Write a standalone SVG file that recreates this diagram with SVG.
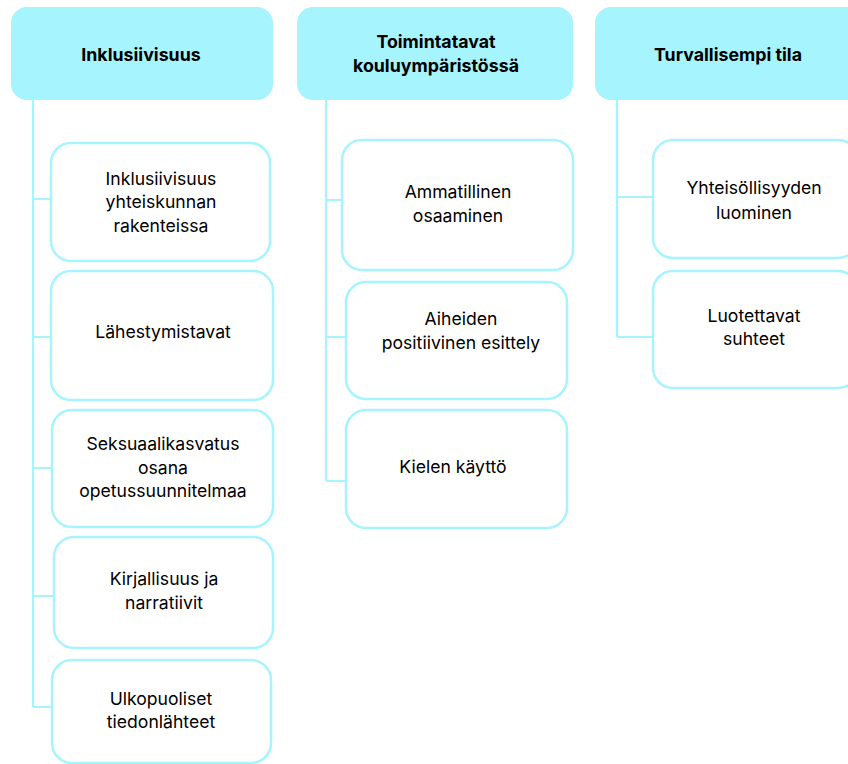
<svg xmlns="http://www.w3.org/2000/svg" width="848" height="764" viewBox="0 0 848 764">
<style>
.hdr{fill:#a6f4fd;stroke:none}
.box{fill:#ffffff;stroke:#a6f4fd;stroke-width:2.5}
.ln{fill:none;stroke:#a6f4fd;stroke-width:2.2}
text{font-family:Inter,"Liberation Sans",sans-serif;font-size:17.6px;fill:#000000;text-anchor:middle}
.h{font-weight:700;font-size:17.8px}
</style>
<rect width="848" height="764" fill="#ffffff"/>
<g id="connectors">
<path class="ln" d="M33 100 V707 M33 199 H51 M33 337 H51 M33 468 H52 M33 596 H54 M33 707 H52"/>
<path class="ln" d="M326 100 V481 M326 200 H342 M326 337 H346 M326 481 H346"/>
<path class="ln" d="M617 100 V337 M617 197 H653 M617 337 H653"/>
</g>
<g id="h1"><rect class="hdr" x="11" y="7" width="262" height="93" rx="16"/><text class="h" x="141" y="61">Inklusiivisuus</text></g>
<g id="h2"><rect class="hdr" x="297" y="7" width="276" height="93" rx="16"/><text class="h" x="436" y="48">Toimintatavat</text><text class="h" x="436" y="72">kouluympäristössä</text></g>
<g id="h3"><rect class="hdr" x="595" y="7" width="276" height="93" rx="16"/><text class="h" x="728" y="61">Turvallisempi tila</text></g>

<g id="c1a"><rect class="box" x="51" y="143" width="219" height="118" rx="20"/><text x="161" y="185">Inklusiivisuus</text><text x="161" y="208">yhteiskunnan</text><text x="161" y="232">rakenteissa</text></g>
<g id="c1b"><rect class="box" x="51" y="271" width="222" height="129" rx="20"/><text x="163" y="338">Lähestymistavat</text></g>
<g id="c1c"><rect class="box" x="52" y="410" width="221" height="117" rx="20"/><text x="163" y="450">Seksuaalikasvatus</text><text x="163" y="474">osana</text><text x="163" y="497">opetussuunnitelmaa</text></g>
<g id="c1d"><rect class="box" x="54" y="537" width="219" height="111" rx="20"/><text x="164" y="585">Kirjallisuus ja</text><text x="164" y="609">narratiivit</text></g>
<g id="c1e"><rect class="box" x="52" y="660" width="219" height="103" rx="20"/><text x="161" y="705">Ulkopuoliset</text><text x="161" y="728">tiedonlähteet</text></g>

<g id="c2a"><rect class="box" x="342" y="140" width="231" height="130" rx="20"/><text x="458" y="198">Ammatillinen</text><text x="458" y="222">osaaminen</text></g>
<g id="c2b"><rect class="box" x="346" y="282" width="221" height="117" rx="20"/><text x="461" y="325">Aiheiden</text><text x="461" y="349">positiivinen esittely</text></g>
<g id="c2c"><rect class="box" x="346" y="410" width="221" height="118" rx="20"/><text x="453" y="473">Kielen käyttö</text></g>

<g id="c3a"><rect class="box" x="653" y="140" width="205" height="118" rx="20"/><text x="754" y="194">Yhteisöllisyyden</text><text x="754" y="219">luominen</text></g>
<g id="c3b"><rect class="box" x="653" y="271" width="205" height="117" rx="20"/><text x="754" y="322">Luotettavat</text><text x="754" y="345">suhteet</text></g>
</svg>
